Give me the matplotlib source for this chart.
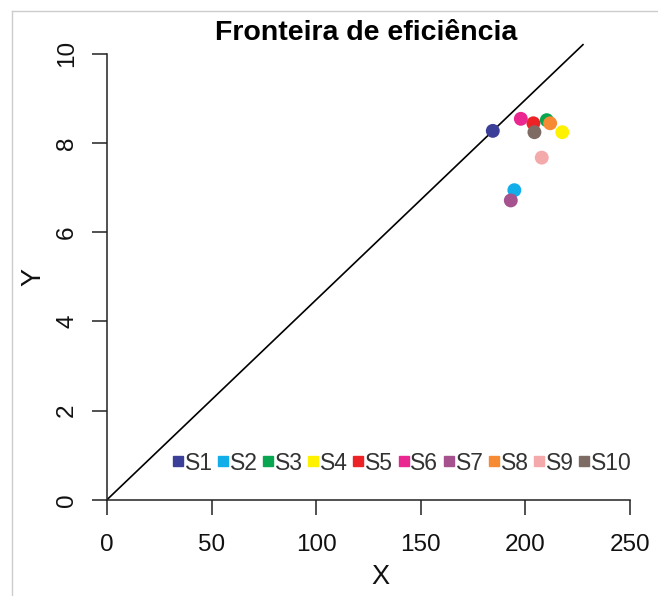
import matplotlib.pyplot as plt
from matplotlib.lines import Line2D

# data
labels = ['S1', 'S2', 'S3', 'S4', 'S5', 'S6', 'S7', 'S8', 'S9', 'S10']
x_vals = [184.4, 194.7, 210.2, 217.6, 203.8, 197.8, 193.0, 211.8, 207.8, 204.3]
y_vals = [8.27, 6.94, 8.51, 8.24, 8.44, 8.54, 6.71, 8.44, 7.67, 8.24]
colors = ['#3C3F97', '#12AEEA', '#08A651', '#FFF200', '#EC2227', '#EA2790',
          '#A5528F', '#F68B34', '#F4A9AA', '#7E6B64']

# frontier through S1
slope = y_vals[0] / x_vals[0]
line_x = [0, 227.5]

plt.rcParams['font.family'] = ['Liberation Sans', 'DejaVu Sans']

fig = plt.figure(figsize=(6.58, 5.96), dpi=100)
ax = fig.add_axes([107 / 658, 96.3 / 596, 533.5 / 658, 456.7 / 596])
ax.set_xlim(0, 255)
ax.set_ylim(0, 10.24)

ax.plot(line_x, [slope * v for v in line_x], color='black', lw=1.2)
ax.scatter(x_vals, y_vals, c=colors, s=100, zorder=3, linewidths=0)

for s in ['top', 'right']:
    ax.spines[s].set_visible(False)
ax.spines['bottom'].set_bounds(0, 250)
ax.spines['left'].set_bounds(0, 10)
for s in ['bottom', 'left']:
    ax.spines[s].set_color('#222222')
    ax.spines[s].set_linewidth(1.1)

ax.set_xticks([0, 50, 100, 150, 200, 250])
ax.set_yticks([0, 2, 4, 6, 8, 10])
ax.tick_params(length=10.8, width=1.1, color='#222222', labelsize=17.5, labelcolor='#111111')
ax.tick_params(axis='x', pad=14)
ax.tick_params(axis='y', pad=10)
ax.set_yticklabels(['0', '2', '4', '6', '8', '10'], rotation=90, va='center')

fig.text(380 / 658, 1 - 577 / 596, 'X', ha='center', va='center', fontsize=19.5, color='#111111')
fig.text(33 / 658, 1 - 277 / 596, 'Y', ha='center', va='center', fontsize=19.5, rotation=90,
         color='#111111')
fig.text(366 / 658, 1 - 33 / 596, 'Fronteira de eficiência', ha='center', va='center',
         fontsize=20.5, fontweight='bold')

handles = [Line2D([], [], marker='s', ls='', color=c, markersize=7.5) for c in colors]
leg = ax.legend(handles, labels, ncol=10, loc='center', frameon=False,
                bbox_to_anchor=((402 - 107) / 533.5, (499.7 - 463) / 456.7),
                handletextpad=0.05, columnspacing=0.2, handlelength=0.5,
                fontsize=16.5, borderpad=0)
for t in leg.get_texts():
    t.set_color('#333333')

# light gray screenshot frame (top and left)
fig.add_artist(Line2D([12 / 658, 1], [1 - 11 / 596, 1 - 11 / 596], color='#CCCCCC', lw=1))
fig.add_artist(Line2D([12 / 658, 12 / 658], [0, 1 - 11 / 596], color='#CCCCCC', lw=1))

fig.savefig('out.png', dpi=100)
